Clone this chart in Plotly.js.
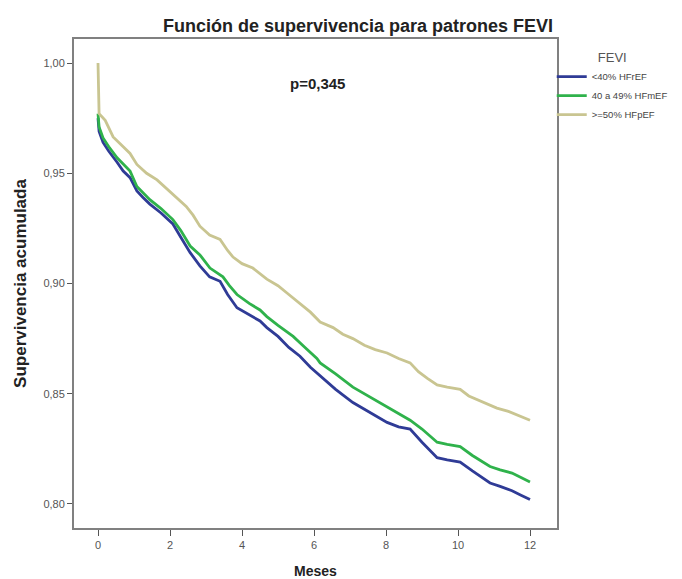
<!DOCTYPE html>
<html>
<head>
<meta charset="utf-8">
<script src="https://cdn.plot.ly/plotly-3.0.1.min.js"></script>
<style>html,body{margin:0;padding:0;background:#fff;}#chart{width:682px;height:579px;}</style>
</head>
<body>
<div id="chart"></div>
<script>
// Series names
const seriesNames = ["<40% HFrEF", "40 a 49% HFmEF", ">=50% HFpEF"];

// HFrEF (<40%)
const tRed = [0, 0.03, 0.14, 0.3, 0.53, 0.7, 0.89, 1.08, 1.25, 1.44, 1.75, 2.08, 2.3, 2.56, 2.83, 3.1, 3.39, 3.6, 3.86, 4.2, 4.5, 4.69, 5.0, 5.3, 5.61, 5.9, 6.17, 6.6, 7.08, 7.5, 8.03, 8.35, 8.67, 9.0, 9.42, 9.7, 10.06, 10.4, 10.89, 11.17, 11.5, 11.75, 12.0];
const sRed = [0.975, 0.969, 0.964, 0.960, 0.955, 0.951, 0.948, 0.942, 0.939, 0.936, 0.932, 0.927, 0.921, 0.914, 0.908, 0.903, 0.901, 0.895, 0.889, 0.886, 0.883, 0.880, 0.876, 0.871, 0.867, 0.862, 0.858, 0.852, 0.846, 0.842, 0.837, 0.835, 0.834, 0.828, 0.821, 0.820, 0.819, 0.815, 0.8095, 0.808, 0.806, 0.804, 0.802];

// HFmEF (40-49%)
const tMid = [0, 0.03, 0.14, 0.3, 0.53, 0.7, 0.89, 1.08, 1.25, 1.44, 1.75, 2.08, 2.3, 2.56, 2.83, 3.11, 3.47, 3.65, 3.86, 4.2, 4.5, 4.69, 5.0, 5.42, 5.75, 6.08, 6.17, 6.6, 7.08, 7.5, 8.03, 8.35, 8.67, 9.0, 9.42, 9.7, 10.06, 10.4, 10.89, 11.17, 11.5, 11.75, 12.0];
const sMid = [0.977, 0.971, 0.966, 0.962, 0.957, 0.954, 0.951, 0.944, 0.941, 0.938, 0.934, 0.929, 0.924, 0.917, 0.913, 0.907, 0.903, 0.899, 0.895, 0.891, 0.888, 0.885, 0.881, 0.876, 0.871, 0.866, 0.864, 0.859, 0.853, 0.849, 0.844, 0.841, 0.838, 0.834, 0.828, 0.827, 0.826, 0.822, 0.817, 0.8155, 0.814, 0.812, 0.810];

// HFpEF (>=50%)
const tPres = [0, 0.03, 0.2, 0.42, 0.7, 0.89, 1.08, 1.35, 1.64, 1.9, 2.19, 2.45, 2.64, 2.83, 3.1, 3.39, 3.6, 3.75, 4.0, 4.3, 4.69, 5.0, 5.3, 5.61, 5.9, 6.17, 6.53, 6.8, 7.08, 7.4, 7.7, 8.03, 8.35, 8.67, 8.9, 9.15, 9.42, 9.7, 10.06, 10.3, 10.6, 10.85, 11.08, 11.4, 11.7, 12.0];
const sPres = [1.000, 0.977, 0.974, 0.9665, 0.962, 0.959, 0.954, 0.950, 0.947, 0.943, 0.939, 0.935, 0.931, 0.926, 0.922, 0.920, 0.915, 0.912, 0.909, 0.907, 0.902, 0.899, 0.895, 0.891, 0.887, 0.8825, 0.880, 0.877, 0.875, 0.872, 0.870, 0.8685, 0.866, 0.864, 0.860, 0.857, 0.854, 0.853, 0.852, 0.849, 0.847, 0.845, 0.8435, 0.842, 0.840, 0.838];

const xTicks = [0, 2, 4, 6, 8, 10, 12];
const yTicks = [0.80, 0.85, 0.90, 0.95, 1.00];
const colors = ["#2f3b96", "#2fb24b", "#c9c591"];

const traces = [
  {x: tRed, y: sRed, name: seriesNames[0], line: {color: colors[0]}},
  {x: tMid, y: sMid, name: seriesNames[1], line: {color: colors[1]}},
  {x: tPres, y: sPres, name: seriesNames[2], line: {color: colors[2]}}
].map(t => Object.assign(t, {type: "scatter", mode: "lines", line: Object.assign(t.line, {width: 2.8, shape: "linear"})}));

const layout = {
  width: 682, height: 579,
  margin: {l: 74, r: 125, t: 39, b: 51, autoexpand: false},
  paper_bgcolor: "#ffffff", plot_bgcolor: "#ffffff",
  separators: ", ",
  font: {family: "Liberation Sans, Arial, sans-serif", color: "#333"},
  title: {text: "<b>Función de supervivencia para patrones FEVI</b>", x: 0.525, xref: "container", xanchor: "center", y: 0.955, yref: "container", yanchor: "middle", font: {size: 18, color: "#222"}},
  xaxis: {
    range: [-0.667, 12.75], tickvals: xTicks, ticktext: xTicks.map(String), automargin: false,
    showgrid: false, zeroline: false, showline: true, mirror: true, linecolor: "#808080", linewidth: 2,
    ticks: "outside", ticklen: 6, tickcolor: "#555", tickfont: {size: 11, color: "#555"},
    title: {text: "<b>Meses</b>", font: {size: 14, color: "#222"}, standoff: 17}
  },
  yaxis: {
    range: [0.7891, 1.0109], tickvals: yTicks, tickformat: ".2f", automargin: false,
    showgrid: false, zeroline: false, showline: true, mirror: true, linecolor: "#808080", linewidth: 2,
    ticks: "outside", ticklen: 5, tickcolor: "#555", tickfont: {size: 11, color: "#555"},
    title: {text: "<b>Supervivencia acumulada</b>", font: {size: 17, color: "#222"}, standoff: 12}
  },
  legend: {
    xref: "container", yref: "container",
    x: 0.809, y: 0.922, xanchor: "left", yanchor: "top",
    font: {size: 9.5, color: "#444"},
    title: {text: "FEVI", side: "top center", font: {size: 13, color: "#555"}},
    itemwidth: 30, tracegroupgap: 0, bgcolor: "rgba(0,0,0,0)"
  },
  annotations: [{
    text: "<b>p=0,345</b>", xref: "paper", yref: "paper", x: 0.505, y: 0.93,
    showarrow: false, font: {size: 15, color: "#222"}
  }],
  showlegend: true
};

Plotly.newPlot("chart", traces, layout, {displayModeBar: false, staticPlot: true});
</script>
</body>
</html>
